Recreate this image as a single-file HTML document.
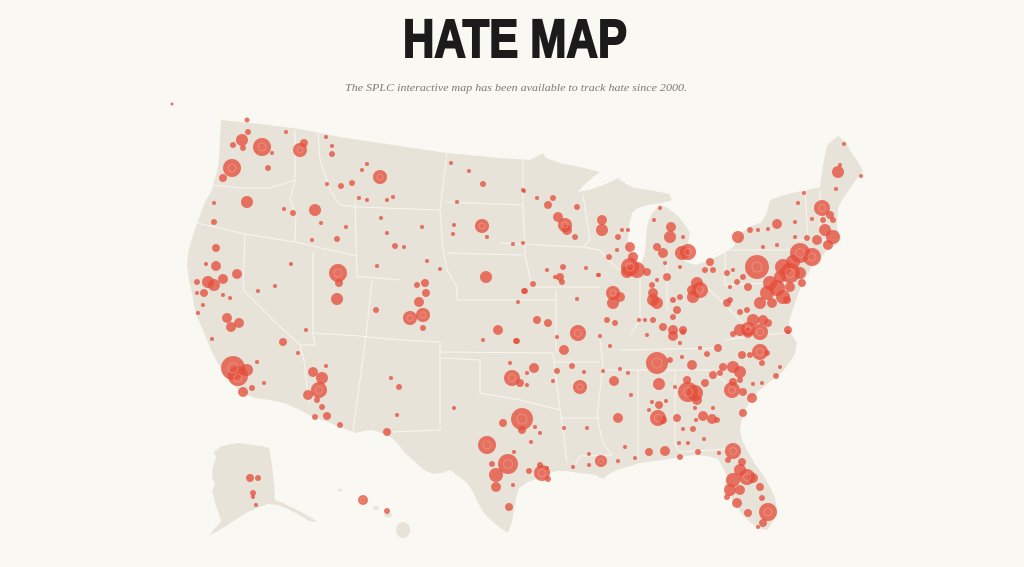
<!DOCTYPE html>
<html>
<head>
<meta charset="utf-8">
<style>
html,body{margin:0;padding:0;background:#f9f8f3;}
body{width:1024px;height:567px;overflow:hidden;}
svg{display:block;}
.st{fill:none;stroke:#f8f6f1;stroke-width:1;stroke-linejoin:round;opacity:.95}
.d circle{fill:#e34c39;fill-opacity:.76;}
.r circle{fill:none;stroke:#f2a395;stroke-width:.8;stroke-opacity:.7}
</style>
</head>
<body>
<svg width="1024" height="567" viewBox="0 0 1024 567" xmlns="http://www.w3.org/2000/svg">
<rect width="1024" height="567" fill="#f9f8f3"/>
<text x="515" y="57" text-anchor="middle" font-family="Liberation Sans, sans-serif" font-weight="bold" font-size="54" fill="#1b1b1b" stroke="#1b1b1b" stroke-width="2" textLength="224" lengthAdjust="spacingAndGlyphs">HATE MAP</text>
<text x="516" y="91" text-anchor="middle" font-family="Liberation Serif, serif" font-style="italic" font-size="11" fill="#7a7a76" textLength="342" lengthAdjust="spacingAndGlyphs">The SPLC interactive map has been available to track hate since 2000.</text>

<!-- contiguous US -->
<path fill="#e8e3d9" d="M221,120 L260,124 L300,129 L340,137 L400,146 L447,153 L500,158 L530,160 L543,153 L546,158 L560,163 L580,167 L600,172 L592,178 L584,185 L578,192 L592,189 L606,184 L618,178 L626,184 L634,188 L648,190 L660,192 L669,194 L672,200 L662,203 L648,205 L638,208 L632,213 L629,225 L628,240 L631,252 L636,263 L641,265 L645,252 L646,236 L648,222 L653,212 L660,205 L668,208 L678,216 L684,224 L690,232 L688,244 L684,256 L686,262 L696,265 L710,260 L724,253 L734,246 L742,232 L752,226 L762,222 L767,212 L770,200 L784,195 L797,192 L812,189 L820,187 L823,165 L827,145 L838,136 L846,142 L851,152 L858,162 L863,171 L856,180 L849,190 L842,200 L838,208 L837,220 L837,228 L841,240 L834,246 L827,250 L820,259 L812,266 L807,276 L802,284 L799,292 L795,303 L792,312 L789,322 L790,332 L797,343 L795,354 L790,362 L782,372 L772,380 L760,390 L752,398 L746,408 L742,418 L740,430 L742,440 L748,452 L755,464 L763,475 L770,487 L775,498 L777,510 L774,520 L767,530 L758,528 L750,522 L742,514 L735,504 L728,494 L724,486 L727,476 L722,466 L718,459 L707,456 L694,455 L680,457 L668,459 L655,461 L640,463 L627,467 L617,470 L609,474 L603,479 L596,475 L588,474 L578,473 L567,471 L557,471 L547,474 L538,478 L528,482 L519,488 L516,498 L514,510 L512,522 L508,533 L502,529 L494,523 L484,513 L478,503 L472,490 L466,482 L458,476 L450,470 L442,473 L433,474 L424,470 L414,461 L404,452 L398,444 L392,438 L384,434 L373,430 L364,431 L355,433 L340,427 L325,421 L313,417 L298,409 L284,403 L270,400 L255,398 L245,394 L237,389 L229,381 L223,372 L217,362 L212,352 L207,340 L202,328 L197,317 L194,305 L192,293 L189,280 L187,265 L188,254 L190,245 L194,232 L199,218 L205,202 L212,190 L214,182 L217,172 L219,160 L220,140 Z"/>

<!-- Alaska -->
<path fill="#e8e3d9" d="M220,447 L230,444 L240,443 L252,445 L262,446 L269,448 L272,465 L274,482 L275,500 L283,503 L293,508 L303,513 L312,518 L317,522 L309,521 L299,515 L288,509 L278,505 L268,504 L257,508 L248,512 L240,517 L232,522 L226,526 L218,531 L209,536 L214,529 L221,522 L219,514 L216,506 L214,498 L212,491 L215,484 L212,477 L213,467 L216,458 L214,452 Z"/>
<!-- Hawaii -->
<ellipse cx="403" cy="530" rx="7" ry="8" fill="#e8e3d9"/>
<ellipse cx="388" cy="515" rx="4" ry="2.5" fill="#e8e3d9"/>
<ellipse cx="376" cy="508" rx="3" ry="2" fill="#e8e3d9"/>
<ellipse cx="364" cy="501" rx="3" ry="2.5" fill="#e8e3d9"/>
<ellipse cx="340" cy="490" rx="2" ry="1.5" fill="#e8e3d9"/>

<!-- state borders -->
<g class="st">
<polyline points="213,185 240,188 270,188 295,180"/>
<polyline points="295,130 295,180 290,200 296,215 295,242"/>
<polyline points="318,132 320,160 330,190 340,205 357,207"/>
<polyline points="193,222 245,234 295,242 330,250 357,256"/>
<polyline points="245,234 243,290 275,322 300,345 304,360 306,380 310,405"/>
<polyline points="313,252 313,333"/>
<polyline points="300,345 315,345 313,333"/>
<polyline points="313,333 360,336 400,340 440,342"/>
<polyline points="355,200 357,277 367,277 400,280"/>
<polyline points="372,280 366,336 353,431"/>
<polyline points="357,207 440,210 447,153"/>
<polyline points="440,210 443,250 447,270 457,287"/>
<polyline points="447,202 523,205"/>
<polyline points="447,253 523,255"/>
<polyline points="523,160 523,205 525,255 532,287"/>
<polyline points="457,287 457,300 556,300"/>
<polyline points="440,342 440,352 553,353"/>
<polyline points="440,352 440,430 392,432"/>
<polyline points="440,358 480,360 480,393 520,400 560,410"/>
<polyline points="556,290 556,353"/>
<polyline points="553,353 560,410 563,430 567,463"/>
<polyline points="560,418 600,418"/>
<polyline points="553,362 600,362"/>
<polyline points="600,340 603,363 597,417 603,443 612,455 580,456 575,465"/>
<polyline points="500,243 583,247 590,240 583,195"/>
<polyline points="532,287 600,287"/>
<polyline points="583,247 600,250 610,262 620,270"/>
<polyline points="640,268 640,320 630,335"/>
<polyline points="667,262 667,310"/>
<polyline points="620,350 725,348"/>
<polyline points="600,370 710,370"/>
<polyline points="638,370 638,460"/>
<polyline points="675,370 675,445 680,452 740,448"/>
<polyline points="710,370 735,390 752,400"/>
<polyline points="725,340 790,332"/>
<polyline points="725,250 790,250"/>
<polyline points="725,250 725,285 795,282"/>
<polyline points="705,285 720,300 740,320 760,335"/>
<polyline points="805,190 808,240"/>
<polyline points="820,190 820,240"/>
<polyline points="795,240 838,240"/>
</g>

<!-- dots -->
<g class="d">
<circle cx="172" cy="104" r="1.5"/>
<circle cx="247" cy="120" r="2.5"/><circle cx="242" cy="140" r="6"/><circle cx="248" cy="132" r="3"/><circle cx="233" cy="145" r="3"/><circle cx="243" cy="148" r="3"/><circle cx="262" cy="147" r="9"/><circle cx="272" cy="153" r="2"/><circle cx="286" cy="132" r="2"/><circle cx="300" cy="150" r="7"/><circle cx="304" cy="143" r="4"/><circle cx="326" cy="137" r="2"/><circle cx="332" cy="146" r="2"/><circle cx="332" cy="154" r="3"/><circle cx="232" cy="168" r="9"/><circle cx="223" cy="178" r="4"/><circle cx="268" cy="168" r="3"/><circle cx="367" cy="164" r="2"/><circle cx="362" cy="170" r="2"/><circle cx="380" cy="177" r="7"/><circle cx="327" cy="184" r="2"/><circle cx="341" cy="186" r="3"/><circle cx="352" cy="183" r="3"/><circle cx="359" cy="198" r="2"/><circle cx="367" cy="200" r="2"/><circle cx="387" cy="200" r="2"/><circle cx="393" cy="197" r="2"/><circle cx="247" cy="202" r="6"/><circle cx="214" cy="203" r="2"/><circle cx="284" cy="209" r="2"/><circle cx="293" cy="213" r="3"/><circle cx="315" cy="210" r="6"/><circle cx="214" cy="222" r="3"/><circle cx="321" cy="223" r="2"/><circle cx="346" cy="227" r="2"/><circle cx="312" cy="240" r="2"/><circle cx="337" cy="239" r="3"/><circle cx="381" cy="218" r="2"/><circle cx="387" cy="233" r="2"/><circle cx="395" cy="246" r="3"/><circle cx="404" cy="247" r="2"/><circle cx="422" cy="227" r="2"/><circle cx="427" cy="261" r="2"/><circle cx="440" cy="269" r="2"/><circle cx="451" cy="163" r="2"/><circle cx="469" cy="171" r="2"/><circle cx="483" cy="184" r="3"/><circle cx="457" cy="202" r="2"/><circle cx="454" cy="225" r="2"/><circle cx="453" cy="234" r="2"/><circle cx="482" cy="226" r="7"/><circle cx="487" cy="237" r="2"/><circle cx="513" cy="244" r="2"/><circle cx="523" cy="243" r="2"/><circle cx="523" cy="190" r="2"/><circle cx="216" cy="248" r="4"/><circle cx="216" cy="266" r="5"/><circle cx="206" cy="264" r="2"/><circle cx="237" cy="274" r="5"/><circle cx="223" cy="279" r="5"/><circle cx="208" cy="282" r="6"/><circle cx="214" cy="285" r="6"/><circle cx="197" cy="282" r="3"/><circle cx="204" cy="293" r="4"/><circle cx="197" cy="293" r="2"/><circle cx="223" cy="295" r="2"/><circle cx="230" cy="298" r="2"/><circle cx="203" cy="305" r="2"/><circle cx="258" cy="291" r="2"/><circle cx="275" cy="286" r="2"/><circle cx="291" cy="264" r="2"/><circle cx="338" cy="273" r="9"/><circle cx="339" cy="283" r="4"/><circle cx="337" cy="299" r="6"/><circle cx="377" cy="266" r="2"/><circle cx="227" cy="318" r="5"/><circle cx="231" cy="327" r="5"/><circle cx="239" cy="323" r="5"/><circle cx="198" cy="313" r="2"/><circle cx="212" cy="339" r="2"/><circle cx="306" cy="330" r="2"/><circle cx="283" cy="342" r="4"/><circle cx="376" cy="310" r="3"/><circle cx="417" cy="285" r="3"/><circle cx="425" cy="283" r="4"/><circle cx="426" cy="293" r="4"/><circle cx="419" cy="302" r="5"/><circle cx="410" cy="318" r="7"/><circle cx="423" cy="315" r="7"/><circle cx="423" cy="328" r="3"/><circle cx="486" cy="277" r="6"/><circle cx="525" cy="291" r="3"/><circle cx="518" cy="302" r="2"/><circle cx="498" cy="330" r="5"/><circle cx="483" cy="340" r="2"/><circle cx="517" cy="341" r="3"/>
<circle cx="298" cy="353" r="2"/><circle cx="233" cy="368" r="12"/><circle cx="238" cy="376" r="10"/><circle cx="247" cy="370" r="6"/><circle cx="243" cy="392" r="5"/><circle cx="252" cy="388" r="3"/><circle cx="257" cy="362" r="2"/><circle cx="264" cy="383" r="2"/><circle cx="313" cy="372" r="5"/><circle cx="322" cy="378" r="6"/><circle cx="319" cy="390" r="8"/><circle cx="308" cy="395" r="5"/><circle cx="317" cy="400" r="3"/><circle cx="322" cy="407" r="3"/><circle cx="326" cy="366" r="2"/><circle cx="315" cy="417" r="3"/><circle cx="327" cy="416" r="4"/><circle cx="340" cy="425" r="3"/><circle cx="391" cy="378" r="2"/><circle cx="399" cy="387" r="3"/><circle cx="397" cy="415" r="2"/><circle cx="387" cy="432" r="4"/><circle cx="454" cy="408" r="2"/><circle cx="557" cy="337" r="2"/><circle cx="578" cy="333" r="8"/><circle cx="564" cy="350" r="5"/><circle cx="510" cy="363" r="2"/><circle cx="512" cy="378" r="8"/><circle cx="520" cy="383" r="4"/><circle cx="527" cy="385" r="2"/><circle cx="534" cy="368" r="5"/><circle cx="527" cy="373" r="2"/><circle cx="557" cy="371" r="3"/><circle cx="572" cy="366" r="3"/><circle cx="584" cy="372" r="2"/><circle cx="553" cy="381" r="2"/><circle cx="580" cy="387" r="7"/><circle cx="522" cy="419" r="11"/><circle cx="503" cy="423" r="4"/><circle cx="522" cy="430" r="4"/><circle cx="535" cy="427" r="2"/><circle cx="540" cy="433" r="2"/><circle cx="531" cy="442" r="2"/><circle cx="487" cy="445" r="9"/><circle cx="514" cy="452" r="2"/><circle cx="508" cy="464" r="10"/><circle cx="492" cy="464" r="3"/><circle cx="496" cy="475" r="7"/><circle cx="496" cy="487" r="5"/><circle cx="513" cy="485" r="2"/><circle cx="542" cy="473" r="8"/><circle cx="548" cy="479" r="3"/><circle cx="540" cy="465" r="3"/><circle cx="529" cy="471" r="3"/><circle cx="547" cy="468" r="2"/><circle cx="509" cy="507" r="4"/><circle cx="564" cy="428" r="2"/><circle cx="587" cy="428" r="2"/><circle cx="589" cy="454" r="2"/><circle cx="573" cy="467" r="2"/><circle cx="589" cy="465" r="2"/><circle cx="601" cy="461" r="6"/>
<circle cx="250" cy="478" r="4"/><circle cx="258" cy="478" r="3"/><circle cx="253" cy="493" r="3"/><circle cx="253" cy="497" r="2"/><circle cx="256" cy="505" r="2"/><circle cx="363" cy="500" r="5"/><circle cx="387" cy="511" r="3"/>
<circle cx="600" cy="336" r="2"/><circle cx="610" cy="346" r="2"/><circle cx="647" cy="335" r="2"/><circle cx="673" cy="336" r="5"/><circle cx="683" cy="332" r="3"/><circle cx="733" cy="334" r="3"/><circle cx="760" cy="332" r="8"/><circle cx="748" cy="333" r="5"/><circle cx="788" cy="332" r="2"/><circle cx="603" cy="371" r="2"/><circle cx="620" cy="369" r="2"/><circle cx="628" cy="373" r="2"/><circle cx="614" cy="381" r="5"/><circle cx="631" cy="395" r="2"/><circle cx="657" cy="363" r="11"/><circle cx="670" cy="360" r="3"/><circle cx="682" cy="357" r="2"/><circle cx="692" cy="365" r="5"/><circle cx="707" cy="354" r="3"/><circle cx="718" cy="348" r="4"/><circle cx="733" cy="367" r="6"/><circle cx="740" cy="372" r="6"/><circle cx="723" cy="367" r="4"/><circle cx="713" cy="375" r="4"/><circle cx="720" cy="373" r="3"/><circle cx="742" cy="355" r="4"/><circle cx="750" cy="355" r="3"/><circle cx="760" cy="352" r="8"/><circle cx="767" cy="353" r="3"/><circle cx="762" cy="363" r="3"/><circle cx="780" cy="367" r="2"/><circle cx="776" cy="376" r="3"/><circle cx="659" cy="384" r="6"/><circle cx="675" cy="387" r="2"/><circle cx="687" cy="380" r="4"/><circle cx="688" cy="392" r="10"/><circle cx="695" cy="393" r="8"/><circle cx="697" cy="400" r="5"/><circle cx="705" cy="383" r="4"/><circle cx="695" cy="408" r="2"/><circle cx="733" cy="382" r="4"/><circle cx="740" cy="380" r="3"/><circle cx="732" cy="390" r="8"/><circle cx="743" cy="392" r="4"/><circle cx="752" cy="398" r="5"/><circle cx="753" cy="384" r="2"/><circle cx="762" cy="383" r="2"/><circle cx="652" cy="402" r="2"/><circle cx="659" cy="405" r="4"/><circle cx="666" cy="401" r="2"/><circle cx="649" cy="410" r="2"/><circle cx="658" cy="418" r="8"/><circle cx="663" cy="420" r="4"/><circle cx="677" cy="418" r="4"/><circle cx="696" cy="420" r="2"/><circle cx="703" cy="416" r="5"/><circle cx="712" cy="419" r="5"/><circle cx="717" cy="420" r="3"/><circle cx="713" cy="408" r="2"/><circle cx="683" cy="429" r="2"/><circle cx="693" cy="429" r="3"/><circle cx="743" cy="413" r="4"/><circle cx="618" cy="418" r="5"/><circle cx="625" cy="447" r="2"/><circle cx="649" cy="452" r="4"/><circle cx="665" cy="451" r="5"/><circle cx="679" cy="443" r="2"/><circle cx="688" cy="443" r="2"/><circle cx="704" cy="439" r="2"/><circle cx="680" cy="457" r="3"/><circle cx="698" cy="452" r="3"/><circle cx="719" cy="453" r="2"/><circle cx="618" cy="461" r="2"/><circle cx="635" cy="458" r="2"/>
<circle cx="733" cy="451" r="8"/><circle cx="728" cy="460" r="3"/><circle cx="742" cy="462" r="4"/><circle cx="740" cy="470" r="6"/><circle cx="733" cy="480" r="7"/><circle cx="747" cy="477" r="8"/><circle cx="753" cy="478" r="5"/><circle cx="730" cy="490" r="6"/><circle cx="740" cy="490" r="5"/><circle cx="760" cy="487" r="4"/><circle cx="727" cy="497" r="3"/><circle cx="737" cy="503" r="5"/><circle cx="762" cy="498" r="3"/><circle cx="748" cy="513" r="4"/><circle cx="768" cy="512" r="9"/><circle cx="763" cy="523" r="4"/><circle cx="758" cy="527" r="2"/>
<circle cx="844" cy="144" r="2"/><circle cx="838" cy="172" r="6"/><circle cx="840" cy="165" r="2"/><circle cx="861" cy="176" r="2"/><circle cx="836" cy="189" r="2"/><circle cx="804" cy="193" r="2"/><circle cx="798" cy="203" r="2"/><circle cx="822" cy="208" r="8"/><circle cx="830" cy="215" r="4"/><circle cx="795" cy="222" r="2"/><circle cx="812" cy="219" r="2"/><circle cx="823" cy="220" r="3"/><circle cx="833" cy="220" r="3"/><circle cx="825" cy="230" r="6"/><circle cx="833" cy="237" r="7"/><circle cx="828" cy="245" r="5"/><circle cx="817" cy="240" r="5"/><circle cx="807" cy="238" r="3"/><circle cx="795" cy="237" r="2"/><circle cx="777" cy="224" r="5"/><circle cx="738" cy="237" r="6"/><circle cx="750" cy="230" r="3"/><circle cx="758" cy="230" r="2"/><circle cx="768" cy="229" r="2"/><circle cx="777" cy="245" r="2"/><circle cx="763" cy="247" r="2"/><circle cx="800" cy="253" r="10"/><circle cx="812" cy="257" r="9"/><circle cx="793" cy="262" r="7"/><circle cx="757" cy="267" r="12"/><circle cx="783" cy="267" r="8"/><circle cx="790" cy="273" r="10"/><circle cx="800" cy="273" r="6"/><circle cx="780" cy="277" r="6"/><circle cx="770" cy="283" r="7"/><circle cx="777" cy="288" r="8"/><circle cx="790" cy="287" r="5"/><circle cx="802" cy="283" r="4"/><circle cx="767" cy="293" r="7"/><circle cx="783" cy="297" r="7"/><circle cx="760" cy="303" r="6"/><circle cx="772" cy="303" r="5"/><circle cx="787" cy="300" r="4"/><circle cx="733" cy="270" r="2"/><circle cx="743" cy="277" r="3"/><circle cx="748" cy="287" r="4"/><circle cx="737" cy="282" r="3"/><circle cx="730" cy="300" r="3"/><circle cx="727" cy="303" r="4"/><circle cx="740" cy="312" r="3"/><circle cx="747" cy="310" r="3"/><circle cx="753" cy="320" r="6"/><circle cx="763" cy="320" r="5"/><circle cx="768" cy="323" r="4"/><circle cx="748" cy="329" r="7"/><circle cx="740" cy="330" r="6"/><circle cx="788" cy="330" r="4"/>
<circle cx="660" cy="208" r="2"/><circle cx="654" cy="220" r="2"/><circle cx="671" cy="227" r="5"/><circle cx="670" cy="237" r="6"/><circle cx="683" cy="237" r="2"/><circle cx="657" cy="247" r="4"/><circle cx="663" cy="253" r="5"/><circle cx="682" cy="253" r="7"/><circle cx="688" cy="252" r="8"/><circle cx="665" cy="263" r="2"/><circle cx="680" cy="267" r="2"/><circle cx="630" cy="247" r="5"/><circle cx="633" cy="257" r="5"/><circle cx="630" cy="267" r="9"/><circle cx="637" cy="270" r="8"/><circle cx="647" cy="272" r="4"/><circle cx="627" cy="272" r="6"/><circle cx="618" cy="237" r="3"/><circle cx="617" cy="250" r="2"/><circle cx="622" cy="230" r="2"/><circle cx="628" cy="230" r="2"/><circle cx="609" cy="257" r="3"/><circle cx="599" cy="275" r="2"/><circle cx="602" cy="220" r="5"/><circle cx="602" cy="230" r="6"/><circle cx="577" cy="207" r="3"/><circle cx="575" cy="237" r="3"/><circle cx="558" cy="217" r="5"/><circle cx="565" cy="225" r="7"/><circle cx="567" cy="230" r="5"/><circle cx="553" cy="198" r="3"/><circle cx="548" cy="205" r="4"/><circle cx="537" cy="198" r="2"/><circle cx="524" cy="191" r="2"/><circle cx="547" cy="270" r="2"/><circle cx="563" cy="267" r="3"/><circle cx="560" cy="277" r="4"/><circle cx="562" cy="282" r="3"/><circle cx="555" cy="277" r="2"/><circle cx="586" cy="268" r="2"/><circle cx="598" cy="275" r="2"/><circle cx="533" cy="284" r="3"/><circle cx="524" cy="291" r="3"/><circle cx="613" cy="293" r="7"/><circle cx="620" cy="297" r="5"/><circle cx="613" cy="303" r="6"/><circle cx="577" cy="299" r="2"/><circle cx="537" cy="320" r="4"/><circle cx="548" cy="323" r="4"/><circle cx="607" cy="320" r="3"/><circle cx="615" cy="323" r="3"/><circle cx="516" cy="341" r="3"/><circle cx="639" cy="320" r="2"/><circle cx="645" cy="320" r="2"/><circle cx="653" cy="320" r="3"/><circle cx="653" cy="293" r="5"/><circle cx="653" cy="300" r="6"/><circle cx="657" cy="303" r="6"/><circle cx="652" cy="285" r="3"/><circle cx="667" cy="277" r="4"/><circle cx="657" cy="280" r="2"/><circle cx="673" cy="300" r="3"/><circle cx="677" cy="310" r="4"/><circle cx="673" cy="317" r="3"/><circle cx="680" cy="297" r="3"/><circle cx="697" cy="283" r="6"/><circle cx="700" cy="290" r="8"/><circle cx="693" cy="297" r="6"/><circle cx="692" cy="290" r="5"/><circle cx="710" cy="262" r="4"/><circle cx="705" cy="270" r="3"/><circle cx="713" cy="270" r="3"/><circle cx="727" cy="273" r="3"/><circle cx="730" cy="287" r="2"/><circle cx="663" cy="327" r="4"/><circle cx="673" cy="330" r="5"/><circle cx="683" cy="330" r="4"/><circle cx="680" cy="343" r="2"/><circle cx="700" cy="348" r="2"/>
</g>
<!-- inner rings on larger markers -->
<g class="r">
<circle cx="262" cy="147" r="4"/><circle cx="232" cy="168" r="4"/><circle cx="380" cy="177" r="3"/><circle cx="482" cy="226" r="3"/><circle cx="338" cy="273" r="4"/><circle cx="410" cy="318" r="3"/><circle cx="423" cy="315" r="3"/><circle cx="233" cy="368" r="5"/><circle cx="238" cy="378" r="4"/><circle cx="319" cy="390" r="3.5"/><circle cx="512" cy="378" r="3.5"/><circle cx="522" cy="419" r="5"/><circle cx="487" cy="445" r="4"/><circle cx="508" cy="464" r="4.5"/><circle cx="542" cy="473" r="3.5"/><circle cx="657" cy="363" r="5"/><circle cx="688" cy="392" r="4.5"/><circle cx="732" cy="390" r="3.5"/><circle cx="658" cy="418" r="3.5"/><circle cx="733" cy="451" r="3.5"/><circle cx="747" cy="477" r="3.5"/><circle cx="768" cy="512" r="4"/><circle cx="822" cy="208" r="3.5"/><circle cx="800" cy="253" r="4.5"/><circle cx="812" cy="257" r="4"/><circle cx="757" cy="267" r="5"/><circle cx="790" cy="273" r="4.5"/><circle cx="630" cy="267" r="4"/><circle cx="700" cy="290" r="3.5"/><circle cx="578" cy="333" r="3.5"/><circle cx="760" cy="332" r="3.5"/><circle cx="760" cy="352" r="3.5"/><circle cx="580" cy="387" r="3"/><circle cx="601" cy="461" r="2.5"/><circle cx="363" cy="500" r="2.2"/><circle cx="300" cy="150" r="3"/><circle cx="565" cy="225" r="3"/><circle cx="613" cy="293" r="3"/><circle cx="688" cy="252" r="3.5"/><circle cx="748" cy="329" r="3"/></g>
</svg>
</body>
</html>
